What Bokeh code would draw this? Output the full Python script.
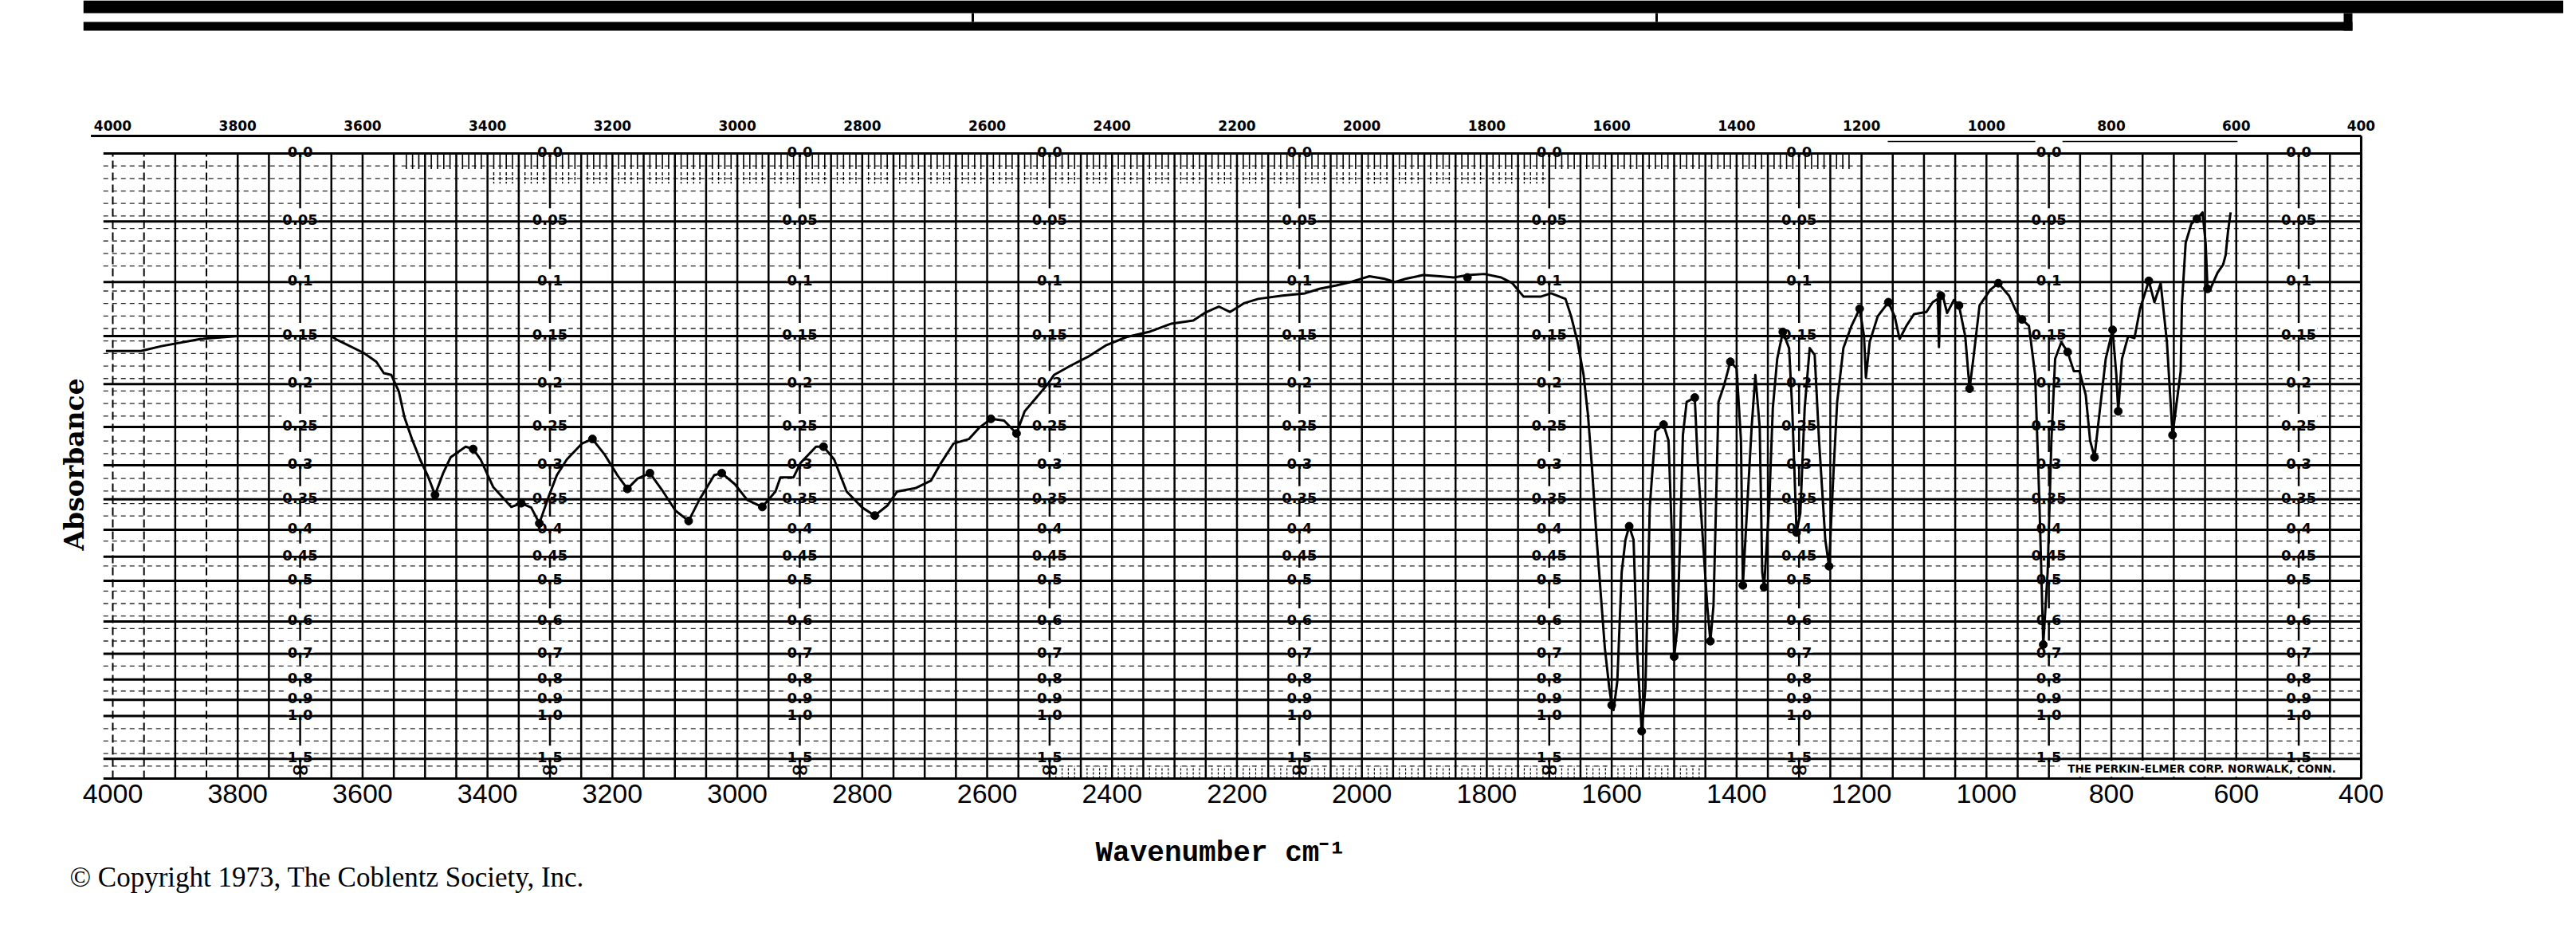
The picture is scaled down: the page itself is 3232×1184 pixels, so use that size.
import numpy as np
from bokeh.plotting import figure
from bokeh.models import Range1d, FixedTicker, Title
from bokeh.embed import file_html
from bokeh.resources import INLINE
from bokeh.core.properties import value

# ---------------- data (wavenumber cm-1, absorbance) ----------------
wavenumber = [4011, 3955, 3922, 3860, 3800, 3700, 3650, 3643, 3598, 3578, 3566, 3554, 3542,
              3533, 3521, 3508, 3496, 3484, 3471, 3459, 3435, 3423, 3411, 3391, 3362, 3346,
              3330, 3317, 3301, 3289, 3273, 3249, 3232, 3212, 3192, 3176, 3160, 3140, 3119,
              3099, 3078, 3061, 3037, 3025, 3004, 2984, 2960, 2939, 2931, 2910, 2899, 2874,
              2862, 2845, 2825, 2800, 2780, 2760, 2744, 2715, 2690, 2674, 2654, 2629, 2613,
              2594, 2573, 2553, 2540, 2520, 2502, 2493, 2466, 2439, 2409, 2377, 2341, 2305,
              2270, 2252, 2229, 2211, 2189, 2166, 2127, 2091, 2068, 2041, 2018, 2000, 1988,
              1965, 1947, 1929, 1902, 1875, 1853, 1830, 1804, 1777, 1759, 1741, 1714, 1697,
              1674, 1665, 1655, 1645, 1638, 1631, 1624, 1617, 1611, 1604, 1600, 1597, 1591,
              1584, 1578, 1572, 1565, 1559, 1552, 1546, 1539, 1530, 1517, 1509, 1504, 1500,
              1495, 1490, 1486, 1480, 1467, 1462, 1454, 1447, 1442, 1437, 1433, 1429, 1420,
              1410, 1400, 1393, 1390, 1383, 1376, 1370, 1363, 1359, 1356, 1348, 1342, 1335,
              1326, 1316, 1311, 1304, 1298, 1291, 1283, 1275, 1268, 1258, 1252, 1245, 1239,
              1229, 1216, 1203, 1196, 1193, 1187, 1174, 1157, 1147, 1139, 1128, 1116, 1096,
              1086, 1078, 1076, 1074, 1070, 1063, 1052, 1044, 1034, 1027, 1021, 1011, 994,
              981, 964, 951, 943, 932, 922, 915, 909, 902, 896, 890, 880, 870, 860, 851, 841,
              834, 827, 818, 809, 798, 792, 789, 783, 773, 763, 754, 740, 731, 721, 711, 702,
              689, 687, 681, 672, 663, 654, 649, 646, 643, 630, 621, 617, 613, 609]
absorbance = [0.165, 0.165, 0.160, 0.153, 0.150, 0.150, 0.150, 0.153, 0.167, 0.176, 0.188, 0.190, 0.208,
              0.238, 0.265, 0.292, 0.314, 0.343, 0.311, 0.289, 0.275, 0.278, 0.292, 0.331, 0.362, 0.356,
              0.363, 0.389, 0.343, 0.314, 0.292, 0.271, 0.265, 0.286, 0.314, 0.334, 0.319, 0.311, 0.338,
              0.368, 0.385, 0.351, 0.314, 0.311, 0.327, 0.351, 0.362, 0.338, 0.317, 0.317, 0.297, 0.275,
              0.275, 0.292, 0.338, 0.363, 0.376, 0.360, 0.338, 0.333, 0.322, 0.297, 0.271, 0.265, 0.251,
              0.240, 0.242, 0.258, 0.231, 0.214, 0.199, 0.190, 0.180, 0.171, 0.159, 0.151, 0.146, 0.138,
              0.135, 0.128, 0.122, 0.127, 0.119, 0.115, 0.112, 0.110, 0.106, 0.103, 0.100, 0.097, 0.095,
              0.097, 0.100, 0.097, 0.094, 0.095, 0.096, 0.094, 0.093, 0.096, 0.101, 0.113, 0.113, 0.110,
              0.115, 0.131, 0.155, 0.190, 0.235, 0.310, 0.418, 0.540, 0.680, 0.836, 0.930, 0.960, 0.807,
              0.481, 0.418, 0.394, 0.418, 0.703, 1.120, 0.836, 0.361, 0.255, 0.247, 0.267, 0.400, 0.710,
              0.620, 0.400, 0.260, 0.220, 0.215, 0.300, 0.418, 0.558, 0.658, 0.558, 0.361, 0.220, 0.201,
              0.176, 0.183, 0.267, 0.510, 0.361, 0.251, 0.190, 0.251, 0.481, 0.514, 0.361, 0.227, 0.173,
              0.146, 0.162, 0.227, 0.405, 0.372, 0.227, 0.162, 0.169, 0.267, 0.418, 0.469, 0.312, 0.220,
              0.162, 0.140, 0.124, 0.150, 0.193, 0.156, 0.131, 0.118, 0.131, 0.153, 0.140, 0.129, 0.127,
              0.118, 0.115, 0.161, 0.115, 0.112, 0.128, 0.116, 0.121, 0.150, 0.205, 0.173, 0.121, 0.107,
              0.101, 0.112, 0.128, 0.134, 0.140, 0.190, 0.361, 0.669, 0.481, 0.267, 0.173, 0.156, 0.166,
              0.186, 0.186, 0.212, 0.267, 0.289, 0.227, 0.173, 0.144, 0.190, 0.231, 0.173, 0.150, 0.152,
              0.124, 0.099, 0.118, 0.101, 0.156, 0.260, 0.186, 0.120, 0.067, 0.052, 0.048, 0.043, 0.067,
              0.106, 0.108, 0.092, 0.085, 0.077, 0.057, 0.043]

# pen marks (ink blobs) left on the recorder trace
blob_wavenumber = [3484, 3423, 3346, 3317, 3232, 3176, 3140, 3078, 3025, 2960, 2862, 2780, 2594,
                   2553, 1831, 1600, 1572, 1552, 1517, 1500, 1467, 1442, 1410, 1390, 1356, 1326,
                   1304, 1252, 1203, 1157, 1073, 1044, 1027, 981, 943, 909, 870, 827, 798, 789,
                   740, 702, 663, 646]
blob_absorbance = [0.343, 0.278, 0.356, 0.389, 0.265, 0.334, 0.311, 0.385, 0.311, 0.362, 0.275, 0.376, 0.240,
                   0.258, 0.096, 0.930, 0.394, 1.120, 0.247, 0.710, 0.215, 0.658, 0.176, 0.510, 0.514, 0.146,
                   0.405, 0.469, 0.124, 0.118, 0.112, 0.121, 0.205, 0.101, 0.134, 0.669, 0.166, 0.289, 0.144, 0.231,
                   0.099, 0.260, 0.048, 0.106]

# chart paper scales
scale_ticks = [4000, 3800, 3600, 3400, 3200, 3000, 2800, 2600, 2400, 2200, 2000,
               1800, 1600, 1400, 1200, 1000, 800, 600, 400]
scale_tick_labels = [str(t) for t in scale_ticks]
absorbance_levels = [0.0, 0.05, 0.1, 0.15, 0.2, 0.25, 0.3, 0.35, 0.4, 0.45, 0.5,
                     0.6, 0.7, 0.8, 0.9, 1.0, 1.5]
absorbance_level_labels = ["0.0", "0.05", "0.1", "0.15", "0.2", "0.25", "0.3", "0.35", "0.4",
                           "0.45", "0.5", "0.6", "0.7", "0.8", "0.9", "1.0", "1.5"]
label_columns = [3700, 3300, 2900, 2500, 2100, 1700, 1300, 900, 500]
infinity_columns = [3700, 3300, 2900, 2500, 2100, 1700, 1300]
dashed_grid_lines = [4000, 3950, 3850]

# ---------------- layout (page pixels) ----------------
X_PAGE_4000 = 149.0
PX_PER_CM = 0.7836
T1_PAGE = 200.0
PX_PER_T = 784.0
FRAME_LEFT, FRAME_RIGHT, FRAME_TOP, FRAME_BOTTOM = 112, 3224, 8, 986


def pw(px):
    return 4000 - (px - X_PAGE_4000) / PX_PER_CM


def pt(py):
    return 1 - (py - T1_PAGE) / PX_PER_T


p = figure(width=3216, height=1168,
           x_range=Range1d(pw(FRAME_LEFT), pw(FRAME_RIGHT)),
           y_range=Range1d(pt(FRAME_BOTTOM), pt(FRAME_TOP)),
           output_backend="svg", toolbar_location=None, title=None,
           y_axis_location=None,
           min_border_left=FRAME_LEFT - 8, min_border_right=0,
           min_border_top=0, min_border_bottom=1176 - FRAME_BOTTOM)
p.outline_line_color = None
p.grid.visible = False
p.background_fill_color = "white"
p.border_fill_color = "white"

INK = "black"
LEFT_W, RIGHT_W = 4015, 400

# minor dashed rows (every 2 %T)
major_T = [10 ** (-a) for a in absorbance_levels] + [0.0]
minor_T = [t for t in np.arange(0.02, 0.99, 0.02) if min(abs(t - m) for m in major_T) > 0.006]
p.segment(x0=[LEFT_W] * len(minor_T), y0=minor_T, x1=[RIGHT_W] * len(minor_T), y1=minor_T,
          line_color=INK, line_width=1.3, line_dash="6 5", line_alpha=0.85)

# fine hatch rows at top and bottom of the paper
hatch_top = [w for w in range(3530, 1215, -10) if w % 50]
p.segment(x0=hatch_top, y0=[1.0] * len(hatch_top), x1=hatch_top, y1=[0.975] * len(hatch_top),
          line_color=INK, line_width=1.6)
hatch_top2 = [w for w in range(3400, 1700, -10) if w % 50]
p.segment(x0=hatch_top2, y0=[0.97] * len(hatch_top2), x1=hatch_top2, y1=[0.952] * len(hatch_top2),
          line_color=INK, line_width=1.4, line_dash="4 2")
hatch_bot = [w for w in range(2500, 1450, -10) if w % 50]
p.segment(x0=hatch_bot, y0=[0.0] * len(hatch_bot), x1=hatch_bot, y1=[0.02] * len(hatch_bot),
          line_color=INK, line_width=1.2, line_dash="3 2")

# vertical grid every 50 cm-1 (a few of the leftmost ones are printed broken)
vgrid = [w for w in range(4000, 399, -50) if w not in dashed_grid_lines]
p.segment(x0=vgrid, y0=[0.0] * len(vgrid), x1=vgrid, y1=[1.0] * len(vgrid),
          line_color=INK, line_width=2.5)
p.segment(x0=dashed_grid_lines, y0=[0.0] * len(dashed_grid_lines), x1=dashed_grid_lines,
          y1=[1.0] * len(dashed_grid_lines), line_color=INK, line_width=2, line_dash="10 5")

# horizontal absorbance lines
p.segment(x0=[LEFT_W] * len(major_T), y0=major_T, x1=[RIGHT_W] * len(major_T), y1=major_T,
          line_color=INK, line_width=3)

# frame pieces of the chart paper
T_TOPLINE = pt(178)
p.segment(x0=[4035], y0=[T_TOPLINE], x1=[RIGHT_W], y1=[T_TOPLINE], line_color=INK, line_width=3)
p.segment(x0=[RIGHT_W], y0=[0.0], x1=[RIGHT_W], y1=[T_TOPLINE], line_color=INK, line_width=3)
p.segment(x0=[1158], y0=[pt(185)], x1=[598], y1=[pt(185)], line_color=INK, line_width=1.5)

# scanned top border
p.quad(left=[pw(FRAME_LEFT)], right=[pw(FRAME_RIGHT)], bottom=[pt(24)], top=[pt(FRAME_TOP)],
       fill_color=INK, line_color=None)
p.quad(left=[pw(FRAME_LEFT)], right=[pw(2959)], bottom=[pt(46)], top=[pt(35)],
       fill_color=INK, line_color=None)
p.quad(left=[pw(2948)], right=[pw(2959)], bottom=[pt(46)], top=[pt(24)],
       fill_color=INK, line_color=None)
p.segment(x0=[pw(1228), pw(2086)], y0=[pt(24)] * 2, x1=[pw(1228), pw(2086)], y1=[pt(35)] * 2,
          line_color=INK, line_width=3)

# Perkin-Elmer imprint box
p.quad(left=[883], right=[402], bottom=[0.003], top=[10 ** -1.5 - 0.003],
       fill_color="white", line_color=None)
p.text(x=[870], y=[0.016], text=["THE PERKIN-ELMER CORP. NORWALK, CONN."],
       text_font=value("DejaVu Sans"), text_font_style="bold", text_font_size=value("13.5px"),
       text_align="left", text_baseline="middle", text_color=INK)

# top wavenumber scale of the paper
p.text(x=scale_ticks, y=[pt(165)] * len(scale_ticks), text=scale_tick_labels,
       text_font=value("DejaVu Sans"), text_font_style="bold", text_font_size=value("17px"),
       text_align="center", text_baseline="middle", text_color=INK)

# absorbance label columns
lx, ly, lt, lw = [], [], [], []
for c in label_columns:
    for a, s in zip(absorbance_levels, absorbance_level_labels):
        lx.append(c)
        ly.append(10 ** (-a))
        lt.append(s)
        lw.append(sum(12.5 if ch.isdigit() else 7 for ch in s) + 2)
p.rect(x=lx, y=[t + 9 / PX_PER_T for t in ly], width=lw, height=[15] * len(lx),
       width_units="screen", height_units="screen", fill_color="white", line_color=None)
p.text(x=lx, y=[t + 2 / PX_PER_T for t in ly], text=lt,
       text_font=value("DejaVu Sans"), text_font_style="bold", text_font_size=value("18px"),
       text_align="center", text_baseline="alphabetic", text_color=INK)
p.text(x=infinity_columns, y=[0.0155] * len(infinity_columns), text=["\u221e"] * len(infinity_columns),
       text_font=value("DejaVu Sans"), text_font_style="bold", text_font_size=value("28px"),
       text_align="center", text_baseline="middle", text_color=INK)

# the spectrum (plotted on the paper's linear transmittance scale)
trans = [10 ** (-a) for a in absorbance]
p.line(wavenumber, trans, line_color=INK, line_width=3, line_join="round")
p.scatter(blob_wavenumber, [10 ** (-a) for a in blob_absorbance], size=10, color=INK)

# bottom axis
ax = p.xaxis[0]
ax.ticker = FixedTicker(ticks=scale_ticks)
ax.axis_line_color = None
ax.major_tick_line_color = None
ax.minor_tick_line_color = None
ax.major_tick_out = 0
ax.major_tick_in = 0
ax.major_label_standoff = 5
ax.major_label_text_font = "Liberation Sans"
ax.major_label_text_font_size = "34px"
ax.major_label_text_color = INK

p.add_layout(Title(text="Wavenumber cm\u207b\u00b9", align="left", offset=1382 - FRAME_LEFT,
                   text_font="Liberation Mono", text_font_style="bold", text_font_size="36px",
                   text_color=INK, standoff=77), "below")
p.add_layout(Title(text="\u00a9 Copyright 1973, The Coblentz Society, Inc.", align="left",
                   offset=95 - FRAME_LEFT, vertical_align="top", text_font="Liberation Serif",
                   text_font_style="normal", text_font_size="35px", text_color=INK,
                   standoff=-98), "below")
p.add_layout(Title(text="Absorbance", align="left", offset=FRAME_BOTTOM - 698,
                   text_font="DejaVu Serif", text_font_style="bold", text_font_size="33px",
                   text_color=INK, standoff=-16), "left")

open("out.html", "w").write(file_html(p, INLINE))
